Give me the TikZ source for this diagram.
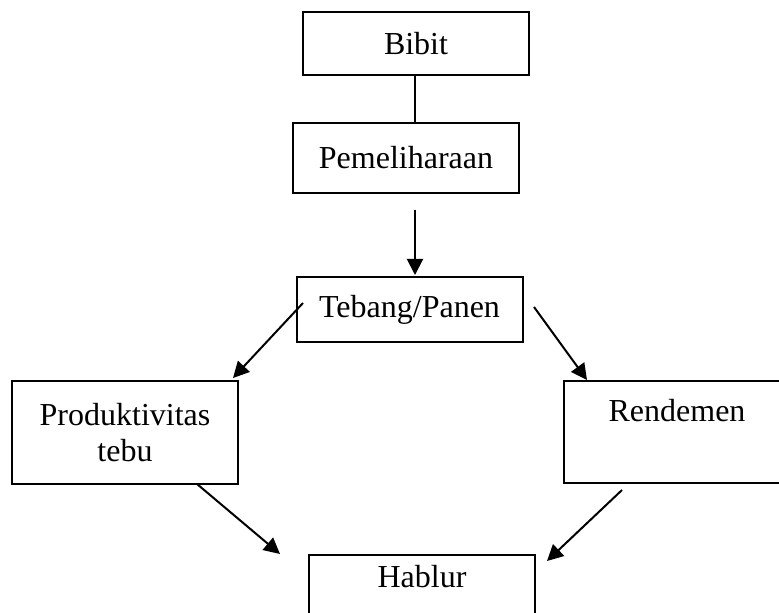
\documentclass[tikz,border=0pt]{standalone}
\usepackage{fontspec}
\setmainfont{Liberation Serif}
\usepackage{tikz}
\usetikzlibrary{positioning}
\usetikzlibrary{arrows.meta}
\tikzset{edge/.style = {-{Triangle[length=8pt,width=8pt]}}}

\begin{document}
\begin{tikzpicture}[x=0.5pt,y=-0.5pt,line width=1pt,font=\fontsize{16}{18}\selectfont,
    box node/.style={rectangle,draw,align=center,inner sep=0pt,minimum width=113pt}]
                \clip (0,0) rectangle (779,613);
                \node[box node, minimum height=31.5pt] (bibit) at (416,43.5) {Bibit};
                \node[box node, minimum height=35pt] (pemeliharaan) at (406,158) {Pemeliharaan};
                \node[box node, minimum height=32.5pt] (tebang) at (409.5,309.5) {Tebang/Panen};
                \node[box node, minimum height=51.5pt] (produktivitas) at (125,432.5) {Produktivitas\\tebu};
                \node[box node, minimum height=51pt] (rendemen) at (677,432) {Rendemen\\[-2pt]\strut};
                \node[box node, minimum height=45pt] (hablur) at (422,600) {Hablur\\\strut};

                % ujung panah yang bebas
                \coordinate (p1) at (415,210);
                \coordinate (p2) at (415,275);
                \coordinate (t1) at (303,303);
                \coordinate (t2) at (233,378);
                \coordinate (t3) at (534,307);
                \coordinate (t4) at (587,380);
                \coordinate (h1) at (197,484);
                \coordinate (h2) at (280,554);
                \coordinate (h3) at (622,490);
                \coordinate (h4) at (547,561);

                \draw (bibit.south -| p1) -- (pemeliharaan.north -| p1);
                \path[edge] (p1) edge[] node {} (p2);
                \path[edge] (t1) edge[] node {} (t2);
                \path[edge] (t3) edge[] node {} (t4);
                \path[edge] (h1) edge[] node {} (h2);
                \path[edge] (h3) edge[] node {} (h4);
            \end{tikzpicture}
\end{document}
